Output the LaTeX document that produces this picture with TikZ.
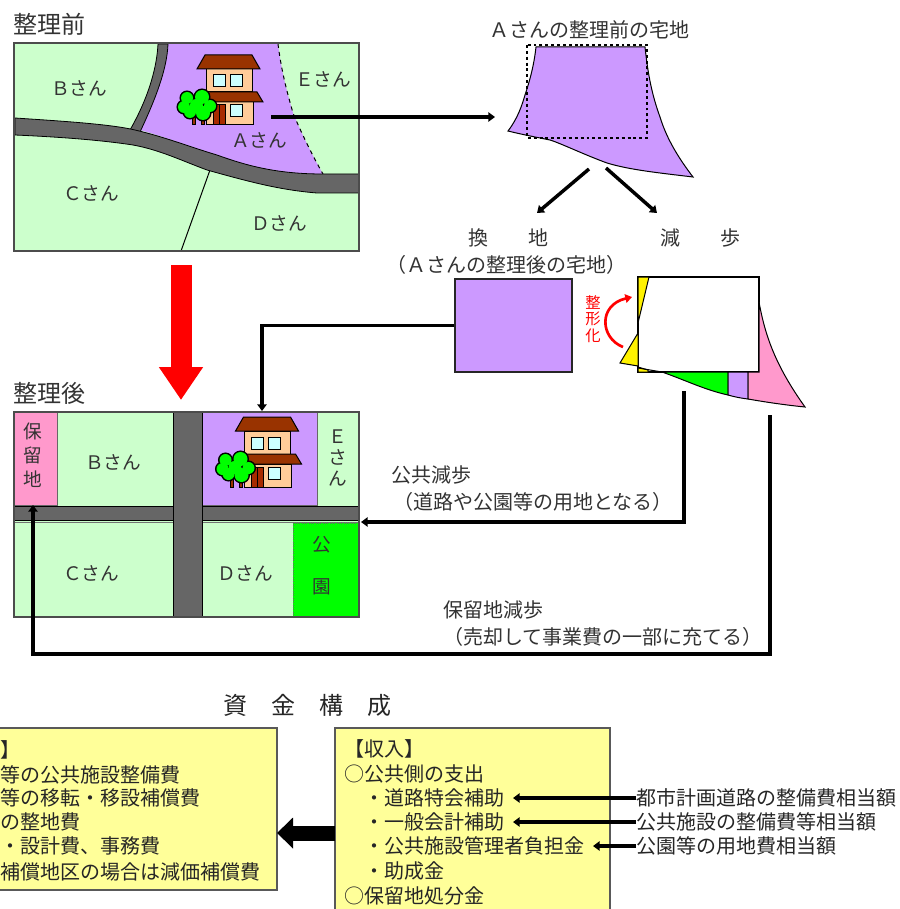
\documentclass[tikz,border=0pt]{standalone}
\usepackage{fontspec}
\setmainfont{Noto Sans CJK JP}
\usetikzlibrary{arrows.meta}

\definecolor{plotgreen}{HTML}{CCFFCC}
\definecolor{lotpurple}{HTML}{CC99FF}
\definecolor{reservepink}{HTML}{FF99CC}
\definecolor{parkgreen}{HTML}{00FF00}
\definecolor{roadgray}{HTML}{666666}
\definecolor{roofbrown}{HTML}{993300}
\definecolor{wallbeige}{HTML}{FFCC99}
\definecolor{glassblue}{HTML}{CCFFFF}
\definecolor{boxyellow}{HTML}{FFFF99}
\definecolor{labelgray}{HTML}{333333}

\tikzset{every picture/.style={line width=0.75pt}}
\tikzset{
  heading/.style={anchor=center,inner sep=0.75pt,text=labelgray,font=\fontsize{18}{22}\selectfont},
  caption/.style={anchor=center,inner sep=0.75pt,text=labelgray,font=\fontsize{15}{17}\selectfont},
  plotlabel/.style={anchor=center,inner sep=0.75pt,text=labelgray,align=center,font=\fontsize{14}{16}\selectfont},
  boxtext/.style={anchor=west,inner sep=0pt,text=black!85,font=\fontsize{15}{17}\selectfont},
  mapframe/.style={draw=black!70,line width=1pt},
  road/.style={draw=black,fill=roadgray,line width=0.6pt},
  flowline/.style={draw=black,line width=2.6pt},
  flowarrow/.style={flowline,-{Triangle[length=5pt,width=7pt]}},
  fundbox/.style={draw=black!65,fill=boxyellow,line width=1.1pt},
  edge/.style={draw=black,line width=0.75pt}
}

\newcommand{\drawhouse}[2]{
\begin{scope}[shift={(#1,#2)}]
\draw[fill=wallbeige] (206,69) rectangle (252,92);
\draw[fill=wallbeige] (206,102) rectangle (253,125);
\draw[fill=roofbrown] (205,55) -- (252,55) -- (260,69) -- (197,69) -- cycle;
\draw[fill=roofbrown] (208,92) -- (257,92) -- (263,102) -- (208,102) -- cycle;
\draw[fill=glassblue] (213,75) rectangle (225,87);
\draw[fill=glassblue] (230,75) rectangle (242,87);
\draw[fill=glassblue] (230,105) rectangle (242,117);
\draw[fill=roofbrown!85!red] (213,105) rectangle (225,125);
\draw (219,105) -- (219,125);
\draw[fill=roofbrown] (192,115) rectangle (195,125);
\draw[fill=roofbrown] (201,115) rectangle (204,125);
%trees
\foreach \cx/\cy/\cr in {187/98/7,184/107/7,190/112/7,196/105/7,202/97/8,197/106/7,203/113/8,210/106/7}
  \draw[fill=black] (\cx,\cy) circle [radius=\cr];
\foreach \cx/\cy/\cr in {187/98/6,184/107/6,190/112/6,196/105/6,202/97/7,197/106/6,203/113/7,210/106/6}
  \fill[parkgreen] (\cx,\cy) circle [radius=\cr];
\end{scope}
}

\begin{document}
\begin{tikzpicture}[x=0.75pt,y=0.75pt,yscale=-1,xscale=1]
\useasboundingbox (0,0) rectangle (899,909);

% Text Node
\node[heading] (beforetitle) at (49,24) {整理前};
\node[heading] (aftertitle) at (49,393) {整理後};

%Shape: map before
\fill[plotgreen] (14,43) rectangle (359,251);
\draw[edge] (210,170) -- (181,251);
%Shape: lot A
\draw[fill=lotpurple,draw=none] (168,44) -- (278,44) .. controls (282,75) and (288,95) .. (293,113) .. controls (300,130) and (312,155) .. (323,174) .. controls (280,174) and (250,167) .. (217,155) .. controls (190,147) and (165,137) .. (140,130) .. controls (155,100) and (167,70) .. (168,44) -- cycle;
\draw[edge,dashed] (278,44) .. controls (282,75) and (288,95) .. (293,113) .. controls (300,130) and (312,155) .. (323,174);
%Shape: roads
\draw[road] (158,44) .. controls (157,65) and (150,95) .. (130,130) -- (140,132) .. controls (155,100) and (167,70) .. (168,44) -- cycle;
\draw[road] (15,118) .. controls (60,121) and (110,124) .. (135,130) .. controls (165,137) and (190,147) .. (217,155) .. controls (250,167) and (280,174) .. (323,174) -- (359,174) -- (359,193) -- (317,193) .. controls (280,190) and (250,182) .. (207,170) .. controls (180,160) and (160,150) .. (133,145) .. controls (100,140) and (60,137) .. (15,135) -- cycle;
\drawhouse{0}{0}
\draw[mapframe] (14,43) rectangle (359,251);

% Text Node
\node[plotlabel] (plotb) at (79,88) {Ｂさん};
\node[plotlabel] (plote) at (323,79) {Ｅさん};
\node[plotlabel] (plota) at (259,140) {Ａさん};
\node[plotlabel] (plotc) at (91,193) {Ｃさん};
\node[plotlabel] (plotd) at (279,223) {Ｄさん};

%Shape: map after
\fill[plotgreen] (14,412) rectangle (359,617);
\draw[fill=reservepink,draw=black!60] (14,412) rectangle (57,505);
\draw[fill=lotpurple,draw=black!60] (202,412) rectangle (317,505);
\draw[fill=parkgreen,draw=black!60,densely dotted] (293,523) rectangle (359,617);
\draw[draw=black!55] (14,522.5) -- (359,522.5);
\draw[road] (14,506) rectangle (359,520);
\draw[road] (173,412) rectangle (202,617);
\fill[roadgray] (174,507) rectangle (201,519);
\drawhouse{38.5}{362}
\draw[mapframe] (14,412) rectangle (359,617);

% Text Node
\node[plotlabel] (keepland) at (33,455) {保\\[2pt]留\\[2pt]地};
\node[plotlabel] (newb) at (113,462) {Ｂさん};
\node[plotlabel] (newe) at (338,458) {Ｅ\\さ\\ん};
\node[plotlabel] (newc) at (91,573) {Ｃさん};
\node[plotlabel] (newd) at (245,573) {Ｄさん};
\node[plotlabel] (parkone) at (322,545) {公};
\node[plotlabel] (parktwo) at (322,587) {園};

%Shape: lot A alone
\draw[edge,fill=lotpurple] (536,47) -- (645,47) .. controls (648,75) and (652,95) .. (660,117) .. controls (667,140) and (680,160) .. (693,177) .. controls (660,173) and (630,170) .. (607,163) .. controls (585,155) and (560,143) .. (550,140) .. controls (535,137) and (520,134) .. (508,131) .. controls (518,118) and (522,105) .. (525,95) .. controls (530,80) and (534,65) .. (536,47) -- cycle;
\draw[draw=black,line width=1.1pt,dash pattern=on 2.2pt off 2.2pt] (527,45) rectangle (647,138);

\node[caption] (lottitle) at (589,30) {Ａさんの整理前の宅地};
\node[caption] (swaptitle) at (508,238) {換\hspace{30pt}地};
\node[caption] (cuttitle) at (700,238) {減\hspace{30pt}歩};
\node[caption] (swapnote) at (506,265) {（Ａさんの整理後の宅地）};

%Shape: lot after
\node[draw=black!85,fill=lotpurple,line width=1pt,minimum width=87.75pt,minimum height=69.75pt,inner sep=0pt] (afterlot) at (513.5,325.5) {};

%Shape: reduction pieces
\draw[edge,fill=white,line width=1.1pt] (638,277) rectangle (759,372);
\draw[edge,fill=parkgreen] (662,372) -- (728,372) -- (728,395) .. controls (705,390) and (685,380) .. (662,372) -- cycle;
\draw[edge,fill=lotpurple] (728,372) -- (748,372) -- (748,399) .. controls (740,398) and (735,397) .. (728,395) -- cycle;
\draw[edge,fill=reservepink] (748,372) -- (759,372) -- (759,302) .. controls (765,335) and (775,365) .. (805,407) .. controls (785,405) and (765,402) .. (748,399) -- cycle;
\draw[edge,fill=yellow] (638,277) -- (649,277) -- (638,323) -- cycle;
\draw[edge,fill=yellow] (638,333) -- (620,363) -- (638,366) -- cycle;
\draw[edge,fill=yellow] (638,367) -- (648,370) -- (648,372) -- (638,372) -- cycle;
\draw[edge] (638,368) -- (662,372);
\draw[draw=black,line width=2pt] (759,277) -- (759,290);
\node[anchor=center,inner sep=0.75pt,text=red,align=center,font=\fontsize{11.5}{12.5}\selectfont] (shapefix) at (593,319) {整\\形\\化};

% Connectors
\coordinate (housemark) at (271,117);
\coordinate (lotmark) at (495,117);
\coordinate (forkleft) at (589,169);
\coordinate (forkright) at (606,168);
\coordinate (swapend) at (537,213);
\coordinate (cutend) at (657,213);
\coordinate (redtop) at (181,265);
\coordinate (redtip) at (181,400);
\coordinate (curvestart) at (623,347);
\coordinate (curveend) at (632,297);
\coordinate (afterhouse) at (262,411);
\coordinate (publicstart) at (684,391);
\coordinate (publicend) at (361,522);
\coordinate (keepstart) at (770,415);
\coordinate (keepcorner) at (33,654);
\coordinate (keepend) at (33,505);

\draw[flowarrow] (housemark) -- (lotmark);
\draw[flowarrow] (forkleft) -- (swapend);
\draw[flowarrow] (forkright) -- (cutend);
\draw[line width=15.75pt,red,-{Triangle[length=24.75pt,width=31.5pt]}] (redtop) -- (redtip);
\draw[red,line width=2pt,-{Triangle[length=5pt,width=6.5pt]}] (curvestart) .. controls (600,338) and (598,305) .. (curveend);
\draw[flowarrow] (afterlot.west) -| (afterhouse);
\draw[flowarrow] (publicstart) |- (publicend);
\draw[flowarrow] (keepstart) |- (keepcorner) -- (keepend);

% Text Node
\node[caption] (publicname) at (431,475) {公共減歩};
\node[caption] (publicnote) at (533,502) {（道路や公園等の用地となる）};
\node[caption] (keepname) at (493,610) {保留地減歩};
\node[caption] (keepnote) at (603,637) {（売却して事業費の一部に充てる）};

\node[heading,text=black!85] (fundtitle) at (307,705) {資\quad 金\quad 構\quad 成};

%Shape: fund boxes
\draw[fundbox] (-10,728) rectangle (277,890);
\draw[fundbox] (335,728) rectangle (610,920);
\coordinate (outgoend) at (277,833);
\coordinate (incomestart) at (335,833);
\draw[line width=11.25pt,black,-{Triangle[length=12pt,width=22.5pt]}] (incomestart) -- (outgoend);

% Text Node
\node[boxtext,anchor=east] (outgohead) at (21,750) {】};
\node[boxtext,anchor=east] (outgoone) at (181,775) {等の公共施設整備費};
\node[boxtext,anchor=east] (outgotwo) at (201,798) {等の移転・移設補償費};
\node[boxtext,anchor=east] (outgothree) at (81,822) {の整地費};
\node[boxtext,anchor=east] (outgofour) at (161,846) {・設計費、事務費};
\node[boxtext,anchor=east] (outgofive) at (261,872) {補償地区の場合は減価補償費};

\node[boxtext] (incomehead) at (344,749) {【収入】};
\node[boxtext] (incomepublic) at (344,774) {○公共側の支出};
\node[boxtext] (incomeroad) at (364,798) {・道路特会補助};
\node[boxtext] (incomegeneral) at (364,822) {・一般会計補助};
\node[boxtext] (incomemanager) at (364,846) {・公共施設管理者負担金};
\node[boxtext] (incomegrant) at (364,871) {・助成金};
\node[boxtext] (incomereserve) at (344,896) {○保留地処分金};

\node[boxtext] (roadcost) at (636,798) {都市計画道路の整備費相当額};
\node[boxtext] (facilitycost) at (636,822) {公共施設の整備費等相当額};
\node[boxtext] (parkcost) at (636,846) {公園等の用地費相当額};

\draw[flowarrow,shorten >=6pt] (roadcost.west) -- (incomeroad.east);
\draw[flowarrow,shorten >=6pt] (facilitycost.west) -- (incomegeneral.east);
\draw[flowarrow,shorten >=6pt] (parkcost.west) -- (incomemanager.east);

\end{tikzpicture}
\end{document}
